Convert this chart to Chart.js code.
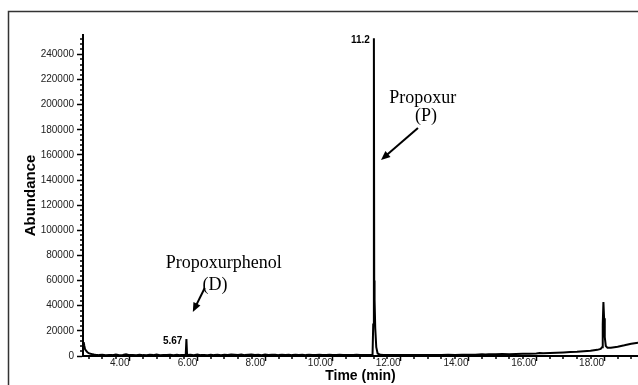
<!DOCTYPE html>
<html>
<head>
<meta charset="utf-8">
<script src="https://cdn.jsdelivr.net/npm/chart.js@4/dist/chart.umd.min.js"></script>
<style>
	html, body { margin: 0; padding: 0; background: #fff; }
	canvas { display: block; }
</style>
</head>
<body>
<canvas id="tic" width="638" height="385"></canvas>
<script>
// retention time (min) and abundance
const times = [
	2.63, 2.65, 2.67, 2.69, 2.72, 2.76, 2.80, 2.85, 2.90, 2.95, 3.00,
	3.1, 3.2, 3.3, 3.4, 3.5, 3.6, 3.7, 3.8, 3.9, 4.0,
	4.1, 4.2, 4.3, 4.4, 4.5, 4.6, 4.7, 4.8, 4.9, 5.0,
	5.1, 5.2, 5.3, 5.4, 5.5, 5.6, 5.66, 5.68, 5.70, 5.8, 5.9, 6.0,
	6.1, 6.2, 6.3, 6.4, 6.5, 6.6, 6.7, 6.8, 6.9, 7.0,
	7.1, 7.2, 7.3, 7.4, 7.5, 7.6, 7.7, 7.8, 7.9, 8.0,
	8.1, 8.2, 8.3, 8.4, 8.5, 8.6, 8.7, 8.8, 8.9, 9.0,
	9.1, 9.2, 9.3, 9.4, 9.5, 9.6, 9.7, 9.8, 9.9, 10.0,
	10.1, 10.2, 10.3, 10.4, 10.5, 10.6, 10.7, 10.8, 10.9, 11.0,
	11.1, 11.17, 11.19, 11.21, 11.22, 11.23, 11.25, 11.28, 11.32, 11.4,
	11.5, 11.6, 11.8, 12.0, 12.2, 12.4, 12.6, 12.8, 13.0, 13.2,
	13.4, 13.6, 13.8, 14.0, 14.2, 14.4, 14.5, 14.6, 14.8, 15.0,
	15.2, 15.4, 15.6, 15.8, 16.0, 16.1, 16.2, 16.4, 16.6, 16.8,
	17.0, 17.2, 17.4, 17.6, 17.8, 17.9, 17.94, 17.96, 17.98, 18.0,
	18.02, 18.05, 18.1, 18.2, 18.3, 18.4, 18.5, 18.6, 18.7, 18.8,
	18.9, 19.0
];
const abundance = [
	10500, 11000, 8000, 5500, 4200, 3000, 2300, 1800, 1500, 1200, 1000,
	700, 900, 600, 800, 700, 1100, 600, 900, 1300, 700,
	800, 600, 1000, 700, 600, 900, 700, 1200, 600, 800,
	700, 900, 600, 1000, 700, 800, 700, 13500, 800, 900, 600, 1100,
	700, 800, 600, 1000, 700, 900, 600, 1000, 800, 1200,
	1000, 800, 1100, 700, 900, 1100, 800, 1000, 700, 1100,
	800, 900, 1000, 700, 900, 800, 1000, 700, 900, 800,
	1000, 700, 900, 800, 700, 900, 800, 700, 900, 800,
	700, 900, 800, 700, 800, 700, 900, 800, 700, 800,
	700, 800, 25000, 253000, 60000, 45000, 22000, 7000, 2000, 900,
	800, 700, 800, 700, 800, 700, 800, 800, 700, 800,
	900, 800, 900, 1000, 1000, 1300, 1100, 1400, 1300, 1500,
	1400, 1600, 1700, 1800, 2000, 2300, 2200, 2400, 2600, 2800,
	3100, 3300, 3800, 4200, 4900, 5600, 7000, 25000, 43000, 30000,
	15000, 8000, 6500, 6600, 7000, 7400, 8000, 8500, 9200, 9800,
	10200, 10500
];
const xTicks = [4, 6, 8, 10, 12, 14, 16, 18];
const yTicks = [0, 20000, 40000, 60000, 80000, 100000, 120000, 140000, 160000, 180000, 200000, 220000, 240000];
const peakNames = ["5.67", "11.2"];
const peakTimes = [5.68, 11.21];

// text notes and arrows, placed in data units (min, abundance)
const notes = [
	{ text: "Propoxur", t: 12.65, a: 205000 },
	{ text: "(P)", t: 12.75, a: 190500 },
	{ text: "Propoxurphenol", t: 6.78, a: 74000 },
	{ text: "(D)", t: 6.52, a: 56500 }
];
const arrows = [
	{ t1: 12.51, a1: 181500, t2: 11.42, a2: 156000 },
	{ t1: 6.22, a1: 54100, t2: 5.87, a2: 35000 }
];

function drawArrow(ctx, x1, y1, x2, y2) {
	const ang = Math.atan2(y2 - y1, x2 - x1);
	const head = 10;
	ctx.beginPath();
	ctx.moveTo(x1, y1);
	ctx.lineTo(x2 - Math.cos(ang) * head * 0.6, y2 - Math.sin(ang) * head * 0.6);
	ctx.stroke();
	ctx.beginPath();
	ctx.moveTo(x2, y2);
	ctx.lineTo(x2 - head * Math.cos(ang - 0.4), y2 - head * Math.sin(ang - 0.4));
	ctx.lineTo(x2 - head * Math.cos(ang + 0.4), y2 - head * Math.sin(ang + 0.4));
	ctx.closePath();
	ctx.fill();
}

const decorations = {
	id: "decorations",
	beforeDraw(chart) {
		const ctx = chart.ctx;
		ctx.save();
		ctx.fillStyle = "#fff";
		ctx.fillRect(0, 0, chart.width, chart.height);
		ctx.strokeStyle = "#333";
		ctx.lineWidth = 1.5;
		ctx.strokeRect(8.5, 11.5, chart.width + 20, chart.height + 20);
		ctx.restore();
	},
	afterDraw(chart) {
		const ctx = chart.ctx;
		const xs = chart.scales.x, ys = chart.scales.y;
		const area = chart.chartArea;
		ctx.save();
		ctx.strokeStyle = "#000";
		ctx.fillStyle = "#000";
		ctx.lineWidth = 1.5;

		// minor ticks
		ctx.beginPath();
		for (let t = 2.8; t < 19; t += 0.4) {
			if (Math.abs(t / 2 - Math.round(t / 2)) < 1e-6) continue;
			const px = Math.round(xs.getPixelForValue(t));
			ctx.moveTo(px, area.bottom);
			ctx.lineTo(px, area.bottom + 3);
		}
		for (let v = 4000; v < ys.max; v += 4000) {
			if (v % 20000 === 0) continue;
			const py = Math.round(ys.getPixelForValue(v));
			ctx.moveTo(area.left - 3, py);
			ctx.lineTo(area.left, py);
		}
		ctx.stroke();

		// peak retention labels
		ctx.font = "bold 10px 'Liberation Sans', Arial, sans-serif";
		ctx.textAlign = "right";
		ctx.textBaseline = "middle";
		peakNames.forEach((name, i) => {
			const a = abundance[times.indexOf(peakTimes[i])];
			ctx.fillText(name, xs.getPixelForValue(peakTimes[i]) - 4, ys.getPixelForValue(a) + 2);
		});

		// compound names
		ctx.font = "18px 'Liberation Serif', 'Times New Roman', serif";
		ctx.textAlign = "center";
		notes.forEach(n => {
			ctx.fillText(n.text, xs.getPixelForValue(n.t), ys.getPixelForValue(n.a));
		});

		ctx.lineWidth = 2;
		arrows.forEach(r => {
			drawArrow(ctx, xs.getPixelForValue(r.t1), ys.getPixelForValue(r.a1),
				xs.getPixelForValue(r.t2), ys.getPixelForValue(r.a2));
		});
		ctx.restore();
	}
};

const sans = "'Liberation Sans', Arial, sans-serif";

new Chart(document.getElementById("tic").getContext("2d"), {
	type: "line",
	data: {
		datasets: [{
			data: times.map((t, i) => ({ x: t, y: abundance[i] })),
			borderColor: "#000",
			borderWidth: 2,
			pointRadius: 0,
			tension: 0,
			fill: false
		}]
	},
	options: {
		responsive: false,
		animation: false,
		layout: { padding: { top: 35, left: 0, right: 0, bottom: 0 } },
		plugins: {
			legend: { display: false },
			tooltip: { enabled: false }
		},
		scales: {
			x: {
				type: "linear",
				min: 2.63,
				max: 19.0,
				afterBuildTicks: s => { s.ticks = xTicks.map(v => ({ value: v })); },
				afterFit: s => { s.height = 29; },
				border: { color: "#000", width: 2 },
				grid: { drawOnChartArea: false, tickLength: 5, tickColor: "#000", tickWidth: 1.5 },
				ticks: {
					align: "end",
					padding: -4,
					autoSkip: false,
					maxRotation: 0,
					color: "#222",
					font: { family: sans, size: 10 },
					callback: v => v.toFixed(2)
				},
				title: {
					display: true,
					text: "Time (min)",
					color: "#000",
					font: { family: sans, size: 14, weight: "bold" },
					padding: 0
				}
			},
			y: {
				min: 0,
				max: 255500,
				afterBuildTicks: s => { s.ticks = yTicks.map(v => ({ value: v })); },
				afterFit: s => { s.width = 83; },
				border: { color: "#000", width: 2 },
				grid: { drawOnChartArea: false, tickLength: 6, tickColor: "#000", tickWidth: 1.5 },
				ticks: {
					padding: 3,
					color: "#222",
					font: { family: sans, size: 10 },
					callback: v => String(v)
				},
				title: {
					display: true,
					text: "Abundance",
					color: "#000",
					font: { family: sans, size: 15, weight: "bold" },
					padding: { top: 22, bottom: 0 }
				}
			}
		}
	},
	plugins: [decorations]
});
</script>
</body>
</html>
